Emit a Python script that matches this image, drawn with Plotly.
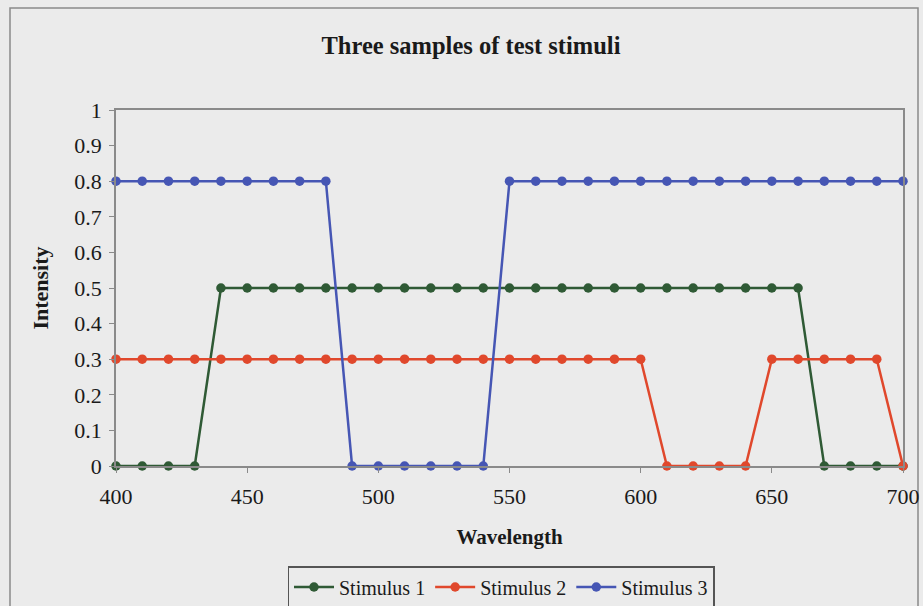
import plotly.graph_objects as go

wavelength = list(range(400, 701, 10))
stimulus_1 = [0, 0, 0, 0] + [0.5] * 23 + [0, 0, 0, 0]
stimulus_2 = [0.3] * 21 + [0, 0, 0, 0] + [0.3] * 5 + [0]
stimulus_3 = [0.8] * 9 + [0] * 6 + [0.8] * 16

series_names = ["Stimulus 1", "Stimulus 2", "Stimulus 3"]
series_values = [stimulus_1, stimulus_2, stimulus_3]
series_colors = ["#2f5a35", "#e0482c", "#4656b4"]

x_ticks = [400, 450, 500, 550, 600, 650, 700]
y_ticks = [0, 0.1, 0.2, 0.3, 0.4, 0.5, 0.6, 0.7, 0.8, 0.9, 1]

font_family = "Liberation Serif"
bg = "#ebebeb"

fig = go.Figure()
for name, vals, col in zip(series_names, series_values, series_colors):
    fig.add_trace(go.Scatter(
        x=wavelength, y=vals, name=name, mode="lines+markers",
        line=dict(color=col, width=2.5),
        marker=dict(color=col, size=9.5),
        cliponaxis=False,
    ))

W, H = 923, 606
L, R, T, B = 116, 20, 110, 140
pw, ph = W - L - R, H - T - B

def px_x(px):
    return (px - L) / pw

def px_y(py):
    return (H - B - py) / ph

fig.update_layout(
    width=W, height=H,
    margin=dict(l=L, r=R, t=T, b=B, autoexpand=False),
    paper_bgcolor=bg, plot_bgcolor=bg,
    font=dict(family=font_family, color="#1a1a1a", size=22),
    title=dict(text="<b>Three samples of test stimuli</b>", x=px_x(471), xref="paper",
               y=1 - 45 / H, yref="container", xanchor="center", yanchor="middle",
               font=dict(size=24.5, family=font_family, color="#1a1a1a")),
    xaxis=dict(range=[400, 700], tickvals=x_ticks, showgrid=False, zeroline=False,
               showline=True, linecolor="#8a8a8a", linewidth=1.5, mirror=True,
               ticks="outside", ticklen=5, tickcolor="#8a8a8a", automargin=False,
               ticklabelstandoff=5,
               tickfont=dict(size=22, family=font_family),
               title=dict(text="<b>Wavelength</b>", standoff=21,
                          font=dict(size=21, family=font_family))),
    yaxis=dict(range=[0, 1], tickvals=y_ticks, ticktext=[("%g" % v) for v in y_ticks],
               showgrid=False, zeroline=False, automargin=False,
               showline=True, linecolor="#8a8a8a", linewidth=1.5, mirror=True,
               ticks="outside", ticklen=5, tickcolor="#8a8a8a",
               ticklabelstandoff=3,
               tickfont=dict(size=22, family=font_family),
               title=dict(text="<b>Intensity</b>", standoff=20,
                          font=dict(size=22, family=font_family))),
    legend=dict(orientation="h", x=px_x(501), xanchor="center", y=px_y(566), yanchor="top",
                bgcolor=bg, bordercolor="#555555", borderwidth=1.5,
                font=dict(size=20, family=font_family), itemwidth=40,
                tracegroupgap=0),
    shapes=[dict(type="rect", xref="paper", yref="paper",
                 x0=px_x(10), x1=px_x(918), y0=px_y(620), y1=px_y(8),
                 line=dict(color="#8a8a8a", width=1.5), layer="below")],
)

fig.write_html("out.html", config={"displayModeBar": False},
               post_script="document.body.style.margin='0';")
